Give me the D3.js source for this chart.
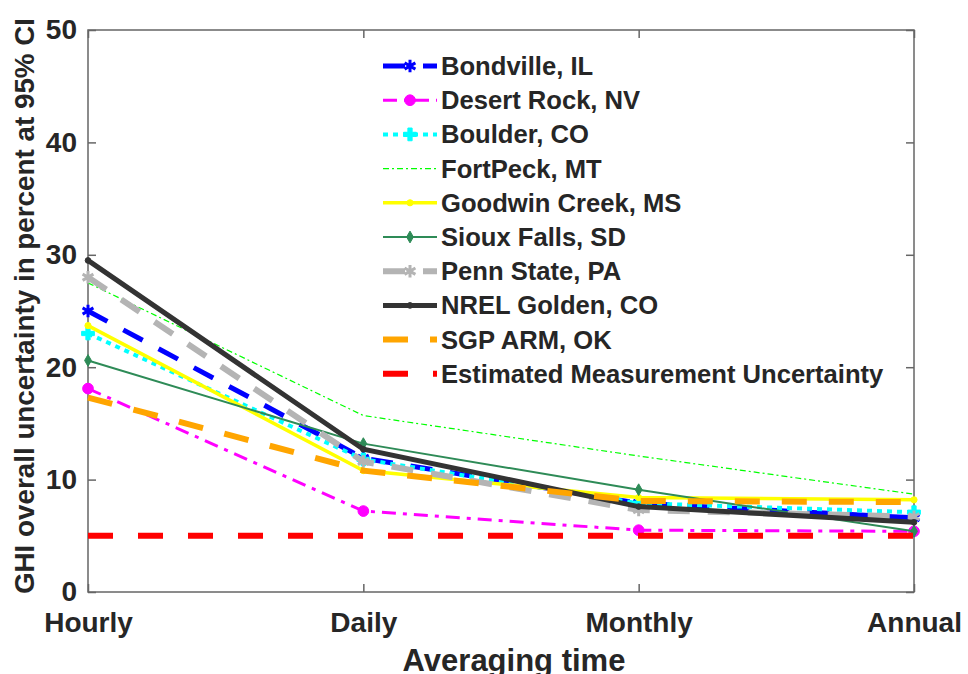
<!DOCTYPE html>
<html>
<head>
<meta charset="utf-8">
<script src="https://cdn.jsdelivr.net/npm/d3@7"></script>
<style>
  body { margin: 0; background: #fff; }
  text { font-family: "Liberation Sans", Arial, sans-serif; font-weight: bold; fill: #262626; }
</style>
</head>
<body>
<div id="chart"></div>
<script>
// categories and values
var periods = ["Hourly", "Daily", "Monthly", "Annual"];
var y_ticks = [0, 10, 20, 30, 40, 50];

var bondville   = [25.0, 11.9, 7.9, 6.6];
var desert_rock = [18.1, 7.2, 5.5, 5.4];
var boulder     = [23.0, 11.8, 7.9, 7.1];
var fort_peck   = [27.5, 15.7, 12.1, 8.7];
var goodwin     = [23.7, 10.8, 8.4, 8.2];
var sioux_falls = [20.6, 13.2, 9.1, 5.4];
var penn_state  = [28.0, 11.6, 7.3, 6.7];
var nrel_golden = [29.5, 12.7, 7.6, 6.2];
var sgp_arm     = [17.3, 10.8, 8.1, 8.0];
var est_meas    = [5, 5, 5, 5];

var series = [
  {name: "Bondville, IL", values: bondville, color: "#0000ff", width: 5, dash: "22,18", marker: "star", msize: 110},
  {name: "Desert Rock, NV", values: desert_rock, color: "#ff00ff", width: 3, dash: "14,7,4,7", marker: "circle", msize: 90},
  {name: "Boulder, CO", values: boulder, color: "#00ffff", width: 4, dash: "5,5", marker: "cross", msize: 90},
  {name: "FortPeck, MT", values: fort_peck, color: "#00ff00", width: 1.2, dash: "6,3,2,3", marker: null},
  {name: "Goodwin Creek, MS", values: goodwin, color: "#ffff00", width: 3.5, dash: null, marker: "circle", msize: 30},
  {name: "Sioux Falls, SD", values: sioux_falls, color: "#2e8b57", width: 2, dash: null, marker: "diamond", msize: 40},
  {name: "Penn State, PA", values: penn_state, color: "#b4b4b4", width: 6, dash: "22,18", marker: "star", msize: 110},
  {name: "NREL Golden, CO", values: nrel_golden, color: "#333333", width: 5, dash: null, marker: "circle", msize: 25},
  {name: "SGP ARM, OK", values: sgp_arm, color: "#ffa500", width: 6, dash: "25,22", marker: null},
  {name: "Estimated Measurement Uncertainty", values: est_meas, color: "#ff0000", width: 6, dash: "25,25", marker: null}
];

var svg_width = 968, svg_height = 674;
var margin = {top: 30, right: 54, bottom: 82, left: 88};
var width = svg_width - margin.left - margin.right;
var height = svg_height - margin.top - margin.bottom;

var svg = d3.select("#chart").append("svg")
  .attr("width", svg_width)
  .attr("height", svg_height);

var g = svg.append("g")
  .attr("transform", `translate(${margin.left}, ${margin.top})`);

var x = d3.scalePoint().domain(periods).range([0, width]);
var y = d3.scaleLinear().domain([0, 50]).range([height, 0]);

// box
g.append("rect")
  .attr("width", width).attr("height", height)
  .attr("fill", "none").attr("stroke", "#666").attr("stroke-width", 1.5);

// axes, ticks pointing inward
var axis_style = function(sel) {
  sel.select(".domain").remove();
  sel.selectAll("line").attr("stroke", "#666").attr("stroke-width", 1.5);
  sel.selectAll("text").style("font-size", "28px").attr("fill", "#262626");
};

var x_axis = g.append("g").attr("transform", `translate(0, ${height})`)
  .call(d3.axisBottom(x).tickSizeInner(-8).tickSizeOuter(0))
  .call(axis_style);
x_axis.selectAll("text").attr("dy", null).attr("y", 40);

g.append("g")
  .call(d3.axisTop(x).tickSizeInner(-8).tickSizeOuter(0).tickFormat(""))
  .call(axis_style);
g.append("g")
  .call(d3.axisLeft(y).tickValues(y_ticks).tickSizeInner(-8).tickSizeOuter(0).tickPadding(11))
  .call(axis_style);
g.append("g").attr("transform", `translate(${width}, 0)`)
  .call(d3.axisRight(y).tickValues(y_ticks).tickSizeInner(-8).tickSizeOuter(0).tickFormat(""))
  .call(axis_style);

// axis labels
svg.append("text")
  .attr("x", margin.left + width / 2 + 13).attr("y", 671)
  .attr("text-anchor", "middle").style("font-size", "31px")
  .text("Averaging time");

svg.append("text")
  .attr("transform", "translate(34, 306) rotate(-90)")
  .attr("text-anchor", "middle").style("font-size", "27.8px")
  .text("GHI overall uncertainty in percent at 95% CI");

var symbol_of = function(name) {
  return {star: d3.symbolAsterisk, circle: d3.symbolCircle, cross: d3.symbolCross, diamond: d3.symbolDiamond}[name];
};

var line = d3.line()
  .x((d, i) => x(periods[i]))
  .y(d => y(d));

// series
series.forEach(function(s) {
  var sg = g.append("g");
  sg.append("path")
    .datum(s.values)
    .attr("d", line)
    .attr("fill", "none")
    .attr("stroke", s.color)
    .attr("stroke-width", s.width)
    .attr("stroke-dasharray", s.dash);
  if (s.marker) {
    sg.selectAll("path.m")
      .data(s.values)
      .enter().append("path")
      .attr("class", "m")
      .attr("transform", (d, i) => `translate(${x(periods[i])}, ${y(d)})`)
      .attr("d", d3.symbol().type(symbol_of(s.marker)).size(s.msize))
      .attr("fill", s.color)
      .attr("stroke", s.color)
      .attr("stroke-width", s.marker === "star" ? 3 : 1);
  }
});

// legend
var legend = svg.append("g").attr("transform", "translate(383, 66)");
series.forEach(function(s, i) {
  var row = legend.append("g").attr("transform", `translate(0, ${i * 34.2})`);
  row.append("line")
    .attr("x1", 0).attr("x2", 54).attr("y1", 0).attr("y2", 0)
    .attr("stroke", s.color)
    .attr("stroke-width", s.width)
    .attr("stroke-dasharray", s.dash);
  if (s.marker) {
    row.append("path")
      .attr("transform", "translate(27, 0)")
      .attr("d", d3.symbol().type(symbol_of(s.marker)).size(s.msize))
      .attr("fill", s.color)
      .attr("stroke", s.color)
      .attr("stroke-width", s.marker === "star" ? 3 : 1);
  }
  row.append("text")
    .attr("x", 58).attr("y", 9)
    .style("font-size", "25.6px")
    .text(s.name);
});
</script>
</body>
</html>
